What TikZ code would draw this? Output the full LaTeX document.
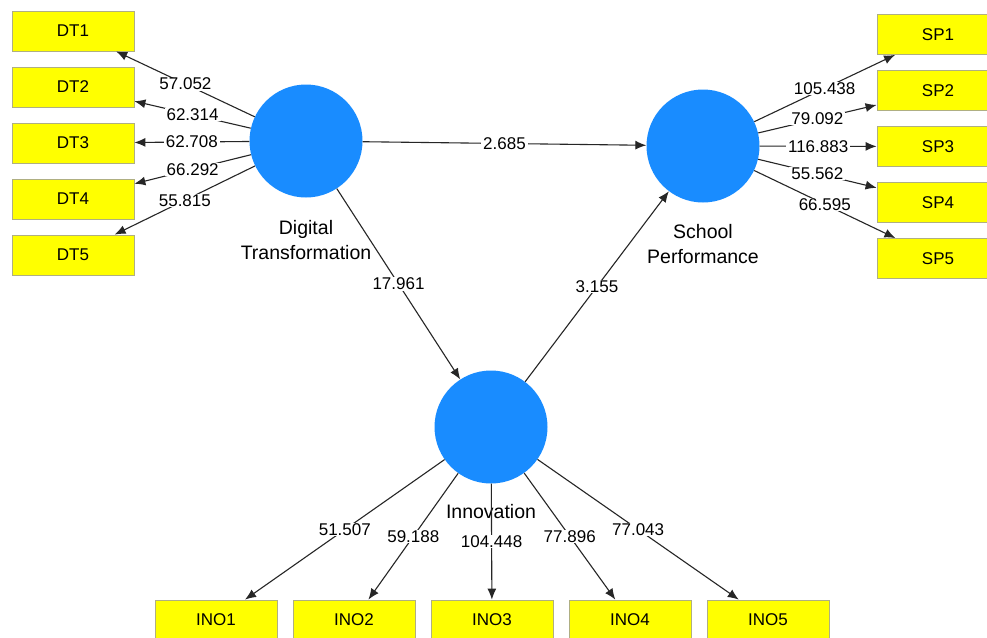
\documentclass[tikz,border=0pt]{standalone}
\usepackage{fontspec}
\setmainfont{Liberation Sans}
\usetikzlibrary{arrows.meta}
\definecolor{lvblue}{RGB}{25,140,255}
\definecolor{mvyellow}{RGB}{255,255,0}
\definecolor{mvedge}{RGB}{175,175,130}

\begin{document}
\begin{tikzpicture}[x=1pt,y=-1pt,
  latent/.style={circle,fill=lvblue,minimum size=113pt,inner sep=0pt},
  mvitem/.style={rectangle,draw=mvedge,line width=0.8pt,fill=mvyellow,minimum width=122pt,minimum height=40pt,font=\fontsize{17}{20}\selectfont},
  relpath/.style={draw=black!85,line width=1.1pt,-{Latex[length=11pt,width=9pt]}},
  coef/.style={fill=white,inner xsep=2pt,inner ysep=0.5pt,font=\fontsize{17}{20}\selectfont},
  lvname/.style={align=center,font=\fontsize{19.5}{25}\selectfont}]
\clip (0,0) rectangle (987,637);
\fill[white] (0,0) rectangle (987,637);
% constructs
\node[latent] (dt) at (306,141) {};
\node[latent] (sp) at (703,146) {};
\node[latent] (ino) at (491,427) {};
\node[lvname] (dtname) at (306,240) {Digital\\Transformation};
\node[lvname] (spname) at (703,244) {School\\Performance};
\node[lvname] (inoname) at (491,512) {Innovation};
% indicators
\node[mvitem] (dt1) at (73,31) {DT1};
\node[mvitem] (dt2) at (73,87) {DT2};
\node[mvitem] (dt3) at (73,143) {DT3};
\node[mvitem] (dt4) at (73,199) {DT4};
\node[mvitem] (dt5) at (73,255) {DT5};
\node[mvitem] (sp1) at (938,34.5) {SP1};
\node[mvitem] (sp2) at (938,90.5) {SP2};
\node[mvitem] (sp3) at (938,146.5) {SP3};
\node[mvitem] (sp4) at (938,202.5) {SP4};
\node[mvitem] (sp5) at (938,258.5) {SP5};
\node[mvitem] (ino1) at (216,620) {INO1};
\node[mvitem] (ino2) at (354,620) {INO2};
\node[mvitem] (ino3) at (492,620) {INO3};
\node[mvitem] (ino4) at (630,620) {INO4};
\node[mvitem] (ino5) at (768,620) {INO5};
% outer loadings
\draw[relpath] (dt) -- node[coef] {57.052} (dt1);
\draw[relpath] (dt) -- node[coef] {62.314} (dt2);
\draw[relpath] (dt) -- node[coef] {62.708} (dt3);
\draw[relpath] (dt) -- node[coef] {66.292} (dt4);
\draw[relpath] (dt) -- node[coef] {55.815} (dt5);
\draw[relpath] (sp) -- node[coef] {105.438} (sp1);
\draw[relpath] (sp) -- node[coef] {79.092} (sp2);
\draw[relpath] (sp) -- node[coef] {116.883} (sp3);
\draw[relpath] (sp) -- node[coef] {55.562} (sp4);
\draw[relpath] (sp) -- node[coef] {66.595} (sp5);
\draw[relpath] (ino) -- node[coef] {51.507} (ino1);
\draw[relpath] (ino) -- node[coef] {59.188} (ino2);
\draw[relpath] (ino) -- node[coef] {104.448} (ino3);
\draw[relpath] (ino) -- node[coef] {77.896} (ino4);
\draw[relpath] (ino) -- node[coef] {77.043} (ino5);
% inner model
\draw[relpath] (dt) -- node[coef] {2.685} (sp);
\draw[relpath] (dt) -- node[coef] {17.961} (ino);
\draw[relpath] (ino) -- node[coef] {3.155} (sp);
\end{tikzpicture}
\end{document}
